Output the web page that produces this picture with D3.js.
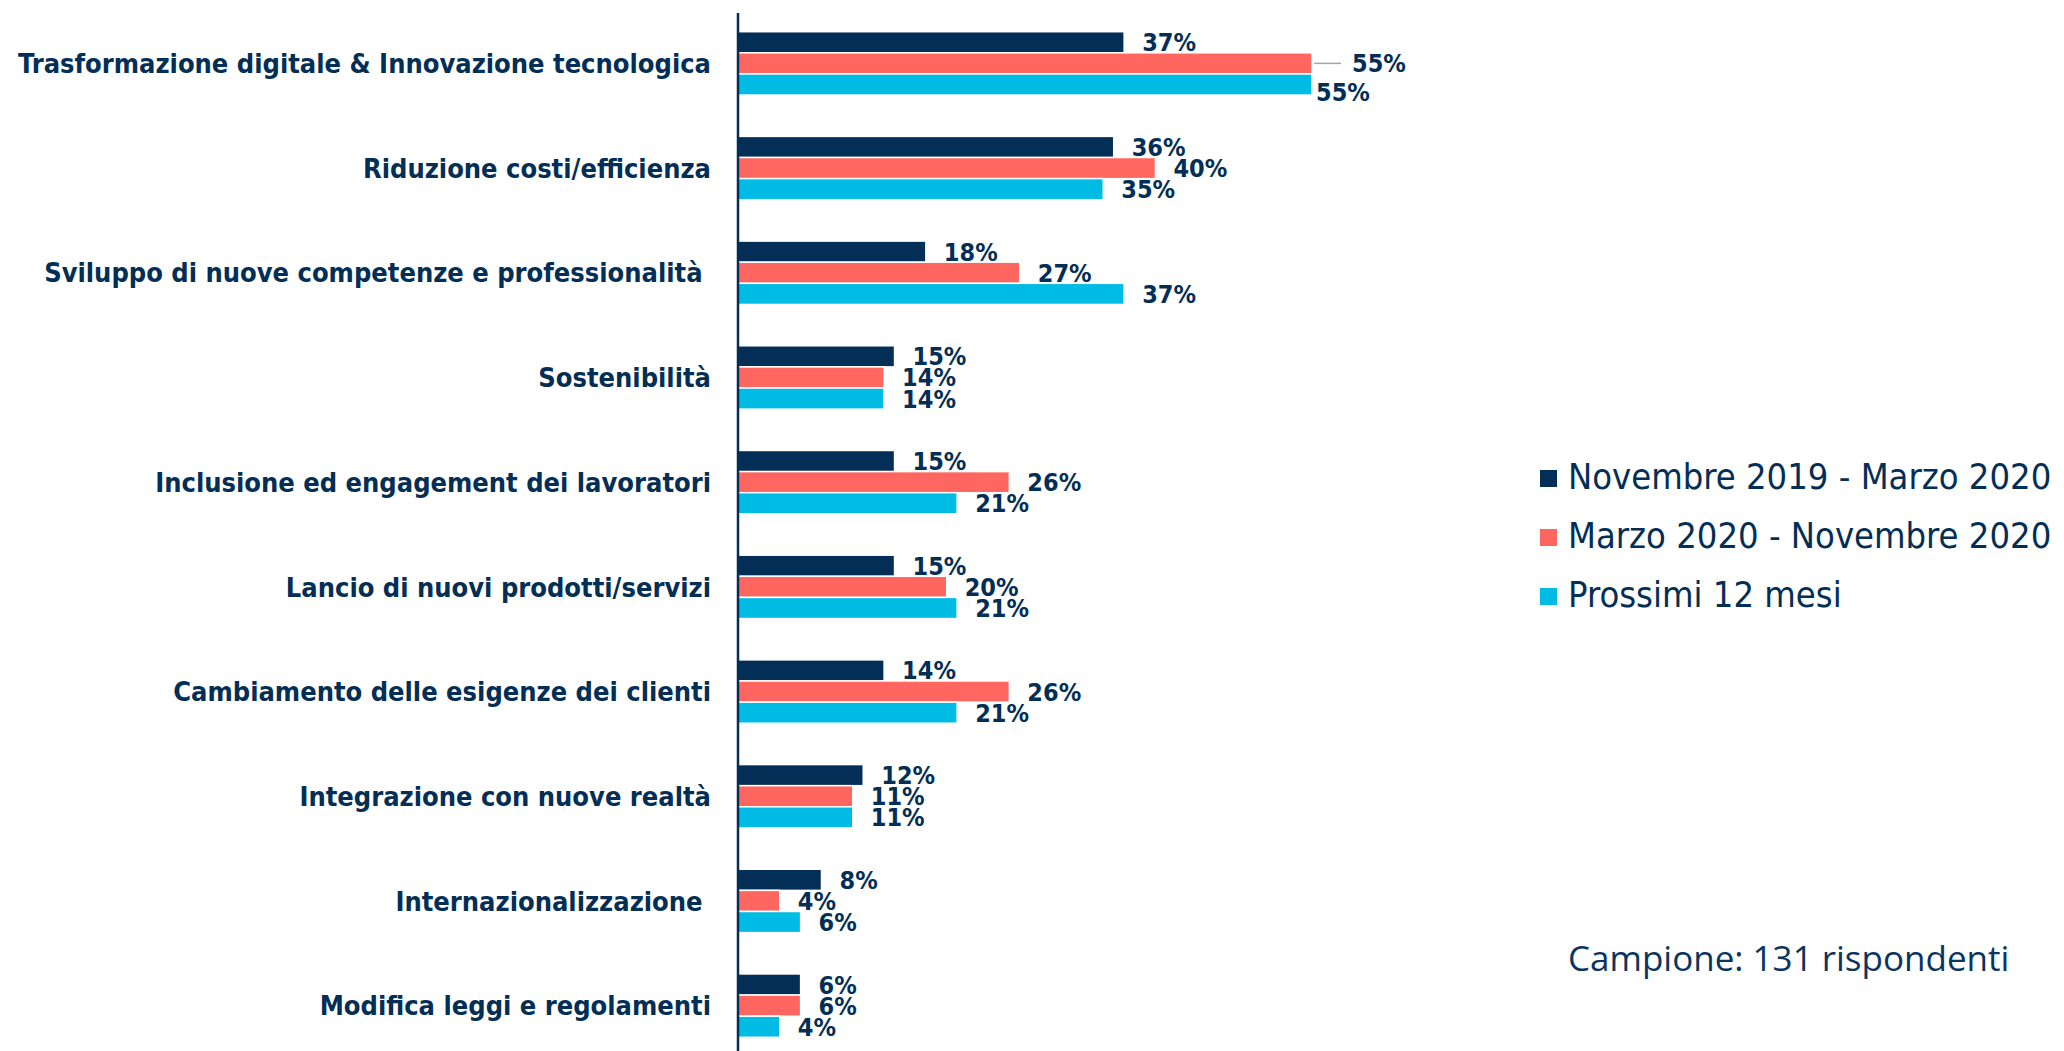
<!DOCTYPE html>
<html>
<head>
<meta charset="utf-8">
<script src="https://cdn.jsdelivr.net/npm/d3@7"></script>
<style>
  body { margin: 0; background: #fff; }
  svg { display: block; }
  .cat { font-family: "DejaVu Sans Condensed", "DejaVu Sans", sans-serif; font-weight: bold; font-size: 27px; fill: #032e55; white-space: pre; }
  .val { font-family: "DejaVu Sans Condensed", "DejaVu Sans", sans-serif; font-weight: bold; font-size: 25px; fill: #032e55; }
  .leg { font-family: "DejaVu Sans Condensed", "DejaVu Sans", sans-serif; font-size: 36px; fill: #032e55; }
  .note { font-family: "Open Sans", sans-serif; font-size: 35px; fill: #0a3560; }
</style>
</head>
<body>
<div id="chart"></div>
<script>
// Categories, top to bottom
var categories = [
  'Trasformazione digitale & Innovazione tecnologica',
  'Riduzione costi/efficienza',
  'Sviluppo di nuove competenze e professionalità ',
  'Sostenibilità',
  'Inclusione ed engagement dei lavoratori',
  'Lancio di nuovi prodotti/servizi',
  'Cambiamento delle esigenze dei clienti',
  'Integrazione con nuove realtà',
  'Internazionalizzazione ',
  'Modifica leggi e regolamenti'
];

var seriesNames = ['Novembre 2019 - Marzo 2020', 'Marzo 2020 - Novembre 2020', 'Prossimi 12 mesi'];
var seriesColors = ['#032e55', '#ff665f', '#00bbe4'];

// values in %
var nov19mar20 = [37, 36, 18, 15, 15, 15, 14, 12, 8, 6];
var mar20nov20 = [55, 40, 27, 14, 26, 20, 26, 11, 4, 6];
var next12m    = [55, 35, 37, 14, 21, 21, 21, 11, 6, 4];

var sampleNote = 'Campione: 131 rispondenti';

var series = [nov19mar20, mar20nov20, next12m];

var svgWidth = 2064, svgHeight = 1051;
var axisX = 738;

var svg = d3.select('#chart').append('svg')
  .attr('width', svgWidth)
  .attr('height', svgHeight);

// scales
var x = d3.scaleLinear().domain([0, 55]).range([0, 574]);
var y = d3.scaleBand().domain(d3.range(categories.length))
  .range([31.7, 1037.3]).paddingInner(0.395).paddingOuter(0);
var ySub = d3.scaleBand().domain(d3.range(series.length)).range([0, y.bandwidth()]);

var chart = svg.append('g').attr('transform', 'translate(' + axisX + ',0)');

// label tweaks where the original moved labels apart (group-series)
var labelShift = { '0-1': { dx: 22, dy: 0, leader: true }, '0-2': { dx: -14, dy: 8 } };

var groups = chart.selectAll('g.grp')
  .data(categories.map(function(c, i) { return i; }))
  .enter().append('g')
    .attr('class', 'grp')
    .attr('transform', function(i) { return 'translate(0,' + y(i) + ')'; });

groups.each(function(gi) {
  var g = d3.select(this);
  series.forEach(function(s, si) {
    var v = s[gi];
    g.append('rect')
      .attr('x', 0)
      .attr('y', ySub(si))
      .attr('width', x(v))
      .attr('height', ySub.bandwidth())
      .attr('fill', seriesColors[si])
      .attr('stroke', '#fff')
      .attr('stroke-width', 1.5);

    var sh = labelShift[gi + '-' + si] || { dx: 0, dy: 0 };
    var cy = ySub(si) + ySub.bandwidth() / 2;
    if (sh.leader) {
      g.append('line')
        .attr('x1', x(v) + 2).attr('x2', x(v) + 29)
        .attr('y1', cy).attr('y2', cy)
        .attr('stroke', '#a6a6a6').attr('stroke-width', 1.5);
    }
    g.append('text')
      .attr('class', 'val')
      .attr('x', x(v) + 18 + sh.dx)
      .attr('y', cy + sh.dy)
      .attr('dy', '0.36em')
      .text(v + '%');
  });
});

// category labels
chart.selectAll('text.cat')
  .data(categories)
  .enter().append('text')
    .attr('class', 'cat')
    .attr('x', -27)
    .attr('y', function(d, i) { return y(i) + y.bandwidth() / 2; })
    .attr('dy', '0.36em')
    .attr('text-anchor', 'end')
    .text(function(d) { return d; });

// vertical axis line
chart.append('line')
  .attr('x1', 0).attr('x2', 0)
  .attr('y1', 13).attr('y2', svgHeight)
  .attr('stroke', '#032e55')
  .attr('stroke-width', 2.5);

// legend
var legend = svg.append('g').attr('transform', 'translate(1540,0)');
seriesNames.forEach(function(name, i) {
  var by = 489 + i * 59;
  legend.append('rect')
    .attr('x', 0).attr('y', by - 19)
    .attr('width', 17).attr('height', 17)
    .attr('fill', seriesColors[i]);
  legend.append('text')
    .attr('class', 'leg')
    .attr('x', 28).attr('y', by)
    .text(name);
});

svg.append('text')
  .attr('class', 'note')
  .attr('x', 1568).attr('y', 971)
  .text(sampleNote);
</script>
</body>
</html>
